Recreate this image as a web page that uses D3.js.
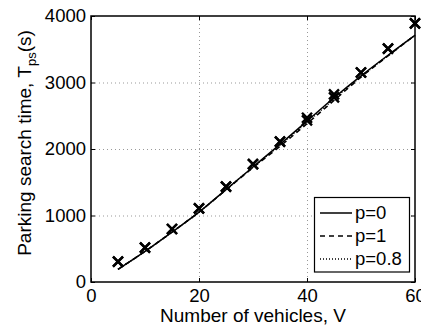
<!DOCTYPE html>
<html>
<head>
<meta charset="utf-8">
<script src="https://cdn.jsdelivr.net/npm/d3@7"></script>
<style>
  html, body { margin: 0; padding: 0; background: #fff; }
  svg { display: block; font-family: "Liberation Sans", Arial, Helvetica, sans-serif; }
</style>
</head>
<body>
<svg id="chart" width="421" height="329"></svg>
<script>
// Number of vehicles V
const vehicles = [5, 10, 15, 20, 25, 30, 35, 40, 45, 50, 55, 60];
// Analytical parking search time (s) for each p
const searchP0  = [190, 460, 750, 1050, 1390, 1730, 2070, 2420, 2770, 3100, 3410, 3710];
const searchP1  = [190, 460, 750, 1050, 1385, 1720, 2040, 2380, 2730, 3080, 3400, 3710];
const searchP08 = [190, 460, 750, 1050, 1390, 1725, 2060, 2400, 2750, 3090, 3405, 3710];
// Simulated search times (x markers)
const simA = [305, 516, 797, 1108, 1433, 1774, 2110, 2470, 2820, 3150, 3510, 3890];
const simB = [305, 516, 797, 1108, 1433, 1774, 2110, 2430, 2775, 3150, 3510, 3890];
const xTicks = [0, 20, 40, 60];
const yTicks = [0, 1000, 2000, 3000, 4000];
const legendLabels = ["p=0", "p=1", "p=0.8"];

const svg = d3.select("#chart");
const L = 91, R = 415, T = 16, B = 282;
const x = d3.scaleLinear().domain([0, 60]).range([L, R]);
const y = d3.scaleLinear().domain([0, 4000]).range([B, T]);

// dotted grid
const grid = svg.append("g").attr("stroke", "#999").attr("stroke-width", 1)
  .attr("stroke-dasharray", "1,3");
grid.selectAll(".gx").data(xTicks.slice(1, -1)).enter().append("line")
  .attr("x1", d => x(d) + 0.5).attr("x2", d => x(d) + 0.5).attr("y1", T).attr("y2", B);
grid.selectAll(".gy").data(yTicks.slice(1, -1)).enter().append("line")
  .attr("y1", d => y(d) + 0.5).attr("y2", d => y(d) + 0.5).attr("x1", L).attr("x2", R);

// axes with inward ticks on all four sides
const tickLen = 4;
const fs = 18.5;
const fmt = d3.format("d");
const axB = svg.append("g").attr("transform", `translate(0,${B})`)
  .call(d3.axisBottom(x).tickValues(xTicks).tickSizeInner(-tickLen).tickSizeOuter(0).tickPadding(7).tickFormat(fmt));
const axT = svg.append("g").attr("transform", `translate(0,${T})`)
  .call(d3.axisTop(x).tickValues(xTicks).tickSizeInner(-tickLen).tickSizeOuter(0).tickFormat(""));
const axL = svg.append("g").attr("transform", `translate(${L},0)`)
  .call(d3.axisLeft(y).tickValues(yTicks).tickSizeInner(-tickLen).tickSizeOuter(0).tickPadding(5).tickFormat(fmt));
const axR = svg.append("g").attr("transform", `translate(${R},0)`)
  .call(d3.axisRight(y).tickValues(yTicks).tickSizeInner(-tickLen).tickSizeOuter(0).tickFormat(""));
[axB, axT, axL, axR].forEach(a => {
  a.select(".domain").remove();
  a.selectAll("line").attr("stroke", "#000").attr("stroke-width", 1);
  a.selectAll("text").attr("fill", "#000").attr("font-size", fs)
    .attr("font-family", "'Liberation Sans', Arial, sans-serif");
});
// box
svg.append("rect").attr("x", L).attr("y", T).attr("width", R - L).attr("height", B - T)
  .attr("fill", "none").attr("stroke", "#000").attr("stroke-width", 1.5);

// analytical curves
const series = [
  { vals: searchP0, dash: null },
  { vals: searchP1, dash: "5,4" },
  { vals: searchP08, dash: "1,2" }
];
const line = d3.line().x(d => x(d[0])).y(d => y(d[1])).curve(d3.curveMonotoneX);
svg.append("g").selectAll("path").data(series).enter().append("path")
  .attr("d", s => line(vehicles.map((v, i) => [v, s.vals[i]])))
  .attr("fill", "none").attr("stroke", "#000").attr("stroke-width", 1.5)
  .attr("stroke-dasharray", s => s.dash);

// simulation markers
const mk = 5;
[simA, simB].forEach(sim => {
  svg.append("g").selectAll("path").data(vehicles.map((v, i) => [v, sim[i]])).enter().append("path")
    .attr("d", d => {
      const cx = x(d[0]), cy = y(d[1]);
      return `M${cx - mk},${cy - mk}L${cx + mk},${cy + mk}M${cx - mk},${cy + mk}L${cx + mk},${cy - mk}`;
    })
    .attr("stroke", "#000").attr("stroke-width", 2.4).attr("fill", "none");
});

// legend
const lg = svg.append("g");
lg.append("rect").attr("x", 314.5).attr("y", 197.5).attr("width", 95).attr("height", 74.5)
  .attr("fill", "#fff").attr("stroke", "#000").attr("stroke-width", 1.2);
legendLabels.forEach((lab, i) => {
  const ly = 213 + i * 23;
  lg.append("line").attr("x1", 320).attr("x2", 352).attr("y1", ly).attr("y2", ly)
    .attr("stroke", "#000").attr("stroke-width", 1.5).attr("stroke-dasharray", series[i].dash);
  lg.append("text").attr("x", 355).attr("y", ly + 6).attr("font-size", fs).text(lab);
});

// axis titles
svg.append("text").attr("x", 253).attr("y", 322).attr("text-anchor", "middle")
  .attr("font-size", 19).text("Number of vehicles, V");
const yt = svg.append("text").attr("transform", "translate(31,143) rotate(-90)")
  .attr("text-anchor", "middle").attr("font-size", 19);
yt.append("tspan").text("Parking search time, T");
yt.append("tspan").attr("font-size", 13).attr("dy", 5).text("ps");
yt.append("tspan").attr("dy", -5).text("(s)");
</script>
</body>
</html>
